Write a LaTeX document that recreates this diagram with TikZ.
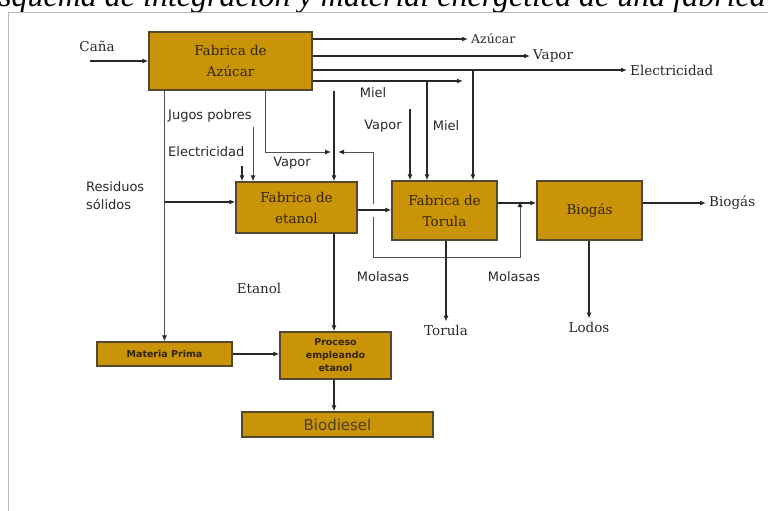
\documentclass[tikz,border=0pt]{standalone}
\usepackage{fontspec}
\setmainfont{DejaVu Serif}
\newfontfamily\labsans{DejaVu Sans}
\newfontfamily\titlefont{Liberation Serif}
\usetikzlibrary{arrows.meta}

\definecolor{boxfill}{RGB}{202,148,8}
\definecolor{boxedge}{RGB}{85,72,48}
\definecolor{boxtext}{RGB}{50,36,5}
\definecolor{flow}{RGB}{40,40,40}
\definecolor{flowlight}{RGB}{80,80,80}
\definecolor{framegray}{RGB}{185,185,185}
\definecolor{labtext}{RGB}{40,40,40}
\definecolor{biotext}{RGB}{78,62,30}

\tikzset{
  proc/.style={draw=boxedge, line width=1.4pt, fill=boxfill, inner sep=0pt,
               text=boxtext, align=center},
  serifbox/.style={proc, font=\fontsize{13.5}{21}\selectfont},
  boldbox/.style={proc, font=\labsans\bfseries\fontsize{9.5}{13}\selectfont},
  seriflab/.style={inner sep=3pt, text=labtext, font=\fontsize{13.5}{16}\selectfont},
  sanslab/.style={inner sep=1pt, text=labtext, align=left, font=\labsans\fontsize{13}{18}\selectfont},
  conn/.style={draw=flow, line width=1.3pt},
  thin/.style={draw=flowlight, line width=1pt},
  tip/.style={-{Latex[length=6pt,width=5pt]}},
  arr/.style={conn, tip},
  thinarr/.style={thin, -{Latex[length=6pt,width=5pt,color=flow]}},
}

\begin{document}
\begin{tikzpicture}[x=1pt, y=-1pt]
\useasboundingbox (0,0) rectangle (768,511);
\clip (0,0) rectangle (768,511);

% heading line, partly outside the page
\node[anchor=base west, inner sep=0pt, font=\titlefont\itshape\fontsize{32}{36}\selectfont]
  (title) at (-1,6.5) {squema de integración y material energética de una fabrica};

% light frame
\coordinate (frTL) at (8,12.5);
\draw[framegray, line width=0.9pt] (768,12.5) -- (frTL) -- (8,511);

% process blocks
\node[serifbox, minimum width=163pt, minimum height=58pt] (azu) at (230.5,61) {Fabrica de\\Azúcar};
\node[serifbox, minimum width=121pt, minimum height=51pt] (et)  at (296.5,207.5) {Fabrica de\\etanol};
\node[serifbox, minimum width=105pt, minimum height=59pt] (tor) at (444.5,210.5) {Fabrica de\\Torula};
\node[serifbox, minimum width=105pt, minimum height=59pt] (bio) at (589.5,210.5) {Biogás};
\node[boldbox, minimum width=135pt, minimum height=24pt] (mp)  at (164.5,354) {Materia Prima};
\node[boldbox, minimum width=111pt, minimum height=47pt] (pro) at (335.5,355.5) {Proceso\\empleando\\etanol};
\node[proc, minimum width=191pt, minimum height=25pt, text=biotext,
      font=\labsans\fontsize{15}{18}\selectfont] (bd) at (337.5,424.5) {Biodiesel};

% labels
\node[seriflab] (lcana) at (97,46) {Caña};
\coordinate (canain) at (90,61);
\node[seriflab, anchor=west, font=\fontsize{12.5}{15}\selectfont] (oaz) at (468,39) {Azúcar};
\node[seriflab, anchor=west] (ovap) at (530,56) {Vapor};
\node[seriflab, anchor=west] (oele) at (627,70) {Electricidad};
\coordinate (omiel) at (463,81);
\node[sanslab] (lmiel1) at (373,93) {Miel};
\node[sanslab] (lvap2) at (383,126) {Vapor};
\node[sanslab] (lmiel2) at (446,126) {Miel};
\node[sanslab, anchor=west] (ljug) at (167,116) {Jugos pobres};
\node[sanslab, anchor=west] (lele) at (167,152) {Electricidad};
\node[sanslab] (lvap1) at (292,163) {Vapor};
\node[sanslab, anchor=west] (lres) at (85,196) {Residuos\\sólidos};
\node[sanslab] (lmol1) at (383,277) {Molasas};
\node[sanslab] (lmol2) at (514,277) {Molasas};
\node[seriflab] (let) at (259,288) {Etanol};
\node[seriflab, anchor=west] (obio) at (706,203) {Biogás};
\node[seriflab] (otor) at (446,330) {Torula};
\node[seriflab] (olod) at (589,327) {Lodos};

% sugar factory inputs and outputs
\draw[arr] (canain) -- (azu.west);
\draw[arr] (azu.east |- oaz) -- (oaz.west);
\draw[arr] (azu.east |- ovap) -- (ovap.west);
\draw[arr] (azu.east |- oele) -- (oele.west);
\draw[arr] (azu.east |- omiel) -- (omiel);

% feeds into the torula factory
\coordinate (eleb) at (473,70);
\coordinate (mielb) at (427,81);
\coordinate (vapt) at (410,109);
\draw[arr] (eleb) -- (eleb |- tor.north);
\draw[arr] (mielb) -- (mielb |- tor.north);
\draw[arr] (vapt) -- (vapt |- tor.north);

% feeds into the ethanol factory
\coordinate (jugt) at (253,127);
\coordinate (elet) at (242,166);
\coordinate (vapd) at (265,90);
\coordinate (junc) at (334,152);
\draw[thinarr] (jugt) -- (jugt |- et.north);
\draw[arr] (elet) -- (elet |- et.north);
\draw[arr] (azu.south -| junc) -- (junc |- et.north);
\draw[thinarr] (vapd) -- (vapd |- junc) -- ([xshift=-3pt]junc);

% return line, bridged where it crosses the ethanol outlet
\coordinate (molA) at (373,152);
\coordinate (molB) at (373,257);
\coordinate (molC) at (520,257);
\coordinate (molD) at (520,203);
\draw[thinarr] (molA) -- ([xshift=4pt]junc);
\draw[thin] (molA) -- (373,203.5);
\draw[thinarr] (373,216.5) -- (molB) -- (molC) -- ([yshift=2pt]molD);

% raw material branch
\draw[thinarr] (azu.south -| mp.north) -- (mp.north);
\draw[arr] (mp.north |- 0,202) -- (et.west |- 0,202);

% main chain
\draw[arr] (et.east |- 0,210) -- (tor.west |- 0,210);
\draw[arr] (tor.east |- molD) -- (bio.west |- molD);
\draw[arr] (bio.east |- obio) -- (obio.west);
\draw[arr] (tor.south -| otor) -- (otor.north);
\draw[arr] (bio.south -| olod) -- (olod.north);
\draw[arr] (et.south -| 334,0) -- (pro.north -| 334,0);
\draw[arr] (mp.east) -- (pro.west |- mp.east);
\draw[arr] (pro.south -| 334,0) -- (bd.north -| 334,0);
\end{tikzpicture}
\end{document}
